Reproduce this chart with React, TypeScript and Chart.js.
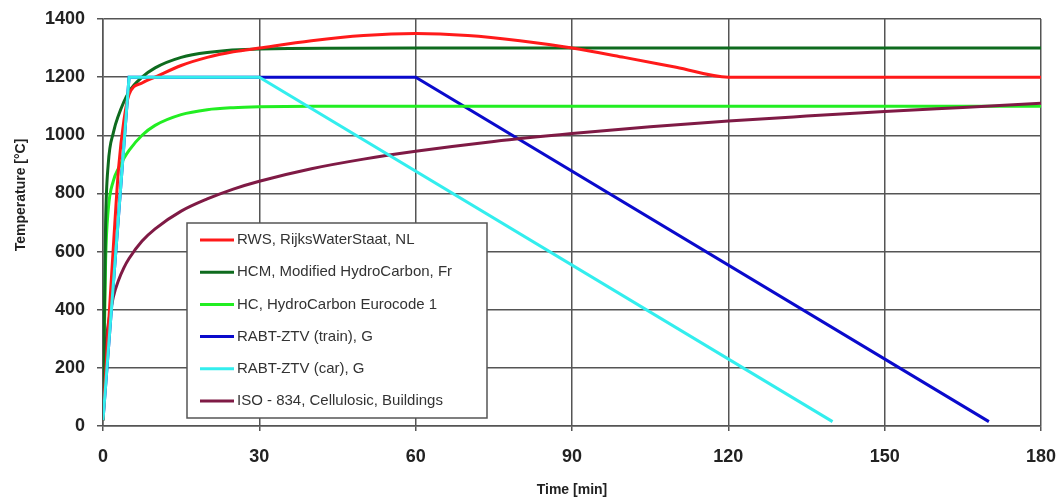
import React, { useEffect, useRef } from 'react';
import { Chart, registerables } from 'chart.js';

Chart.register(...registerables);

const seriesLabels = [
  'RWS, RijksWaterStaat, NL',
  'HCM, Modified HydroCarbon, Fr',
  'HC, HydroCarbon Eurocode 1',
  'RABT-ZTV (train), G',
  'RABT-ZTV (car), G',
  'ISO - 834, Cellulosic, Buildings',
];

const rwsTime = [0, 1, 2, 3, 4, 5, 7.5, 10, 15, 20, 25, 30, 40, 50, 60, 70, 80, 90, 100, 110, 120, 180];
const rwsTemp = [20, 330, 620, 890, 1050, 1140, 1180, 1200, 1240, 1268, 1287, 1300, 1325, 1343, 1350, 1343, 1325, 1300, 1268, 1234, 1200, 1200];

const hcmTime = [0, 0.5, 1, 2, 3, 5, 7.5, 10, 15, 20, 30, 60, 180];
const hcmTemp = [20, 700, 900, 1010, 1070, 1150, 1200, 1232, 1268, 1285, 1297, 1300, 1300];

const hcTime = [0, 0.5, 1, 2, 3, 4, 5, 7.5, 10, 15, 20, 25, 30, 40, 180];
const hcTemp = [20, 568, 743, 844, 887, 920, 948, 1000, 1034, 1071, 1088, 1095, 1098, 1100, 1100];

const trainTime = [0, 5, 60, 170];
const trainTemp = [20, 1200, 1200, 15];

const carTime = [0, 5, 30, 140];
const carTemp = [20, 1200, 1200, 15];

const isoTime = [0, 0.5, 1, 2, 3, 4, 5, 7.5, 10, 15, 20, 25, 30, 40, 50, 60, 75, 90, 105, 120, 135, 150, 165, 180];
const isoTemp = [20, 261, 349, 445, 502, 544, 576, 636, 678, 739, 781, 815, 842, 885, 918, 945, 979, 1006, 1029, 1049, 1066, 1082, 1096, 1110];

const xTicks = [0, 30, 60, 90, 120, 150, 180];
const yTicks = [0, 200, 400, 600, 800, 1000, 1200, 1400];

const colors = ['#ff1a1a', '#0e6b1e', '#22ee22', '#0a0acc', '#33eeee', '#7f1a45'];

const FONT = "'Liberation Sans', Arial, sans-serif";

const pts = (t: number[], v: number[]) => t.map((x, i) => ({ x, y: v[i] }));

const legendPlugin = {
  id: 'boxLegend',
  afterDatasetsDraw(chart: any) {
    const ctx = chart.ctx;
    ctx.save();
    const bx = 187, by = 223, bw = 300, bh = 195;
    ctx.fillStyle = '#ffffff';
    ctx.fillRect(bx, by, bw, bh);
    ctx.strokeStyle = '#555555';
    ctx.lineWidth = 1.5;
    ctx.strokeRect(bx, by, bw, bh);
    ctx.font = `15px ${FONT}`;
    ctx.textBaseline = 'middle';
    ctx.textAlign = 'left';
    chart.data.datasets.forEach((ds: any, i: number) => {
      const y = 240 + i * 32.2;
      ctx.strokeStyle = ds.borderColor;
      ctx.lineWidth = 3;
      ctx.beginPath();
      ctx.moveTo(200, y);
      ctx.lineTo(234, y);
      ctx.stroke();
      ctx.fillStyle = '#333333';
      ctx.fillText(ds.label, 237, y);
    });
    ctx.restore();
  },
  afterDraw(chart: any) {
    const ctx = chart.ctx;
    ctx.save();
    ctx.translate(21, 195);
    ctx.rotate(-Math.PI / 2);
    ctx.font = `bold 14px ${FONT}`;
    ctx.fillStyle = '#222222';
    ctx.textAlign = 'center';
    ctx.textBaseline = 'middle';
    ctx.fillText('Temperature [°C]', 0, 0);
    ctx.restore();
  },
};

export default function App() {
  const ref = useRef<HTMLCanvasElement>(null);
  useEffect(() => {
    const times = [rwsTime, hcmTime, hcTime, trainTime, carTime, isoTime];
    const temps = [rwsTemp, hcmTemp, hcTemp, trainTemp, carTemp, isoTemp];
    const orders = [1, 1, 2, 2, 0, 1];
    const chart = new Chart(ref.current!, {
      type: 'line',
      data: {
        datasets: seriesLabels.map((label, i) => ({
          label,
          data: pts(times[i], temps[i]),
          borderColor: colors[i],
          backgroundColor: colors[i],
          borderWidth: 3,
          pointRadius: 0,
          fill: false,
          order: orders[i],
          tension: 0,
          cubicInterpolationMode: i === 3 || i === 4 ? 'default' : 'monotone',
        })) as any,
      },
      options: {
        animation: false,
        responsive: false,
        maintainAspectRatio: false,
        layout: { padding: { top: 19, right: 21, left: 0, bottom: 0 } },
        plugins: { legend: { display: false }, tooltip: { enabled: false } },
        scales: {
          x: {
            type: 'linear',
            min: 0,
            max: 180,
            afterBuildTicks: (s: any) => { s.ticks = xTicks.map((v) => ({ value: v })); },
            afterFit: (s: any) => { s.height = 73; s.paddingLeft = 0; s.paddingRight = 0; },
            ticks: { color: '#222', font: { family: FONT, size: 18, weight: 'bold' }, padding: 15, callback: (v: any) => String(v) },
            grid: { color: '#555555', lineWidth: 1.5, tickLength: 5, tickColor: '#555555' },
            border: { color: '#555555', width: 1.5 },
            title: { display: true, text: 'Time [min]', color: '#222', font: { family: FONT, size: 14, weight: 'bold' }, padding: { top: 0, bottom: 0 } },
          },
          y: {
            type: 'linear',
            min: 0,
            max: 1400,
            afterBuildTicks: (s: any) => { s.ticks = yTicks.map((v) => ({ value: v })); },
            afterFit: (s: any) => { s.width = 103; s.paddingTop = 0; s.paddingBottom = 0; },
            ticks: { color: '#222', font: { family: FONT, size: 18, weight: 'bold' }, padding: 12, callback: (v: any) => String(v) },
            grid: { color: '#555555', lineWidth: 1.5, tickLength: 6, tickColor: '#555555' },
            border: { color: '#555555', width: 1.5 },
          },
        },
      },
      plugins: [legendPlugin],
    });
    return () => chart.destroy();
  }, []);
  return (
    <div style={{ position: 'fixed', left: 0, top: 0, width: 1062, height: 499, background: '#fff' }}>
      <canvas ref={ref} width={1062} height={499} style={{ width: 1062, height: 499, display: 'block' }} />
    </div>
  );
}
